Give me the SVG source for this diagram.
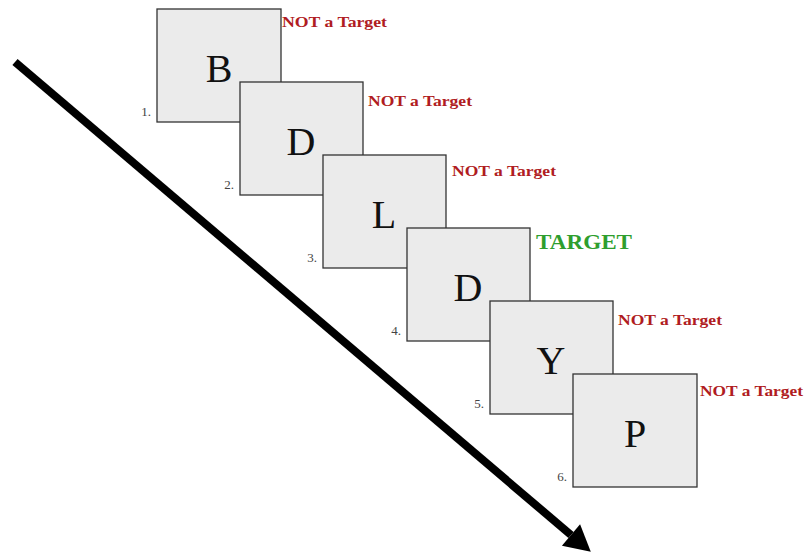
<svg xmlns="http://www.w3.org/2000/svg" width="805" height="554" viewBox="0 0 805 554">
  <style>
    .card { fill: #ebebeb; stroke: #333; stroke-width: 1.3; }
    .letter { font-family: "Liberation Serif", "Times New Roman", serif; font-size: 40px; fill: #111; text-anchor: middle; }
    .num { font-family: "Liberation Serif", "Times New Roman", serif; font-size: 13px; fill: #444; text-anchor: end; }
    .miss { font-family: "Liberation Serif", "Times New Roman", serif; font-weight: bold; font-size: 15px; fill: #b01c22; }
    .hit { font-family: "Liberation Serif", "Times New Roman", serif; font-weight: bold; font-size: 20px; fill: #2e9e2e; }
    .time { stroke: #000; stroke-width: 8; fill: none; }
  </style>
  <defs>
    <marker id="head" markerUnits="userSpaceOnUse" markerWidth="30" markerHeight="30" refX="0" refY="14" orient="auto" overflow="visible">
      <path d="M0,0 L26,14 L0,28 z" fill="#000"/>
    </marker>
  </defs>

  <g id="connectors">
    <line class="time" x1="15" y1="62" x2="571" y2="535" marker-end="url(#head)"/>
  </g>

  <g id="card1">
    <rect class="card" x="157" y="9" width="124" height="113"/>
    <text class="letter" x="219" y="82">B</text>
    <text class="num" x="151" y="116">1.</text>
    <text class="miss" x="282" y="27" textLength="105" lengthAdjust="spacingAndGlyphs">NOT a Target</text>
  </g>

  <g id="card2">
    <rect class="card" x="240" y="82" width="123" height="113"/>
    <text class="letter" x="301" y="155">D</text>
    <text class="num" x="234" y="189">2.</text>
    <text class="miss" x="368" y="106" textLength="104" lengthAdjust="spacingAndGlyphs">NOT a Target</text>
  </g>

  <g id="card3">
    <rect class="card" x="323" y="155" width="123" height="113"/>
    <text class="letter" x="384" y="228">L</text>
    <text class="num" x="317" y="262">3.</text>
    <text class="miss" x="452" y="176" textLength="104" lengthAdjust="spacingAndGlyphs">NOT a Target</text>
  </g>

  <g id="card4">
    <rect class="card" x="407" y="228" width="123" height="113"/>
    <text class="letter" x="468" y="301">D</text>
    <text class="num" x="401" y="335">4.</text>
    <text class="hit" x="536" y="249" textLength="96" lengthAdjust="spacingAndGlyphs">TARGET</text>
  </g>

  <g id="card5">
    <rect class="card" x="490" y="301" width="123" height="113"/>
    <text class="letter" x="551" y="374">Y</text>
    <text class="num" x="484" y="408">5.</text>
    <text class="miss" x="618" y="325" textLength="104" lengthAdjust="spacingAndGlyphs">NOT a Target</text>
  </g>

  <g id="card6">
    <rect class="card" x="573" y="374" width="124" height="113"/>
    <text class="letter" x="635" y="447">P</text>
    <text class="num" x="567" y="481">6.</text>
    <text class="miss" x="700" y="396" textLength="103" lengthAdjust="spacingAndGlyphs">NOT a Target</text>
  </g>
</svg>
